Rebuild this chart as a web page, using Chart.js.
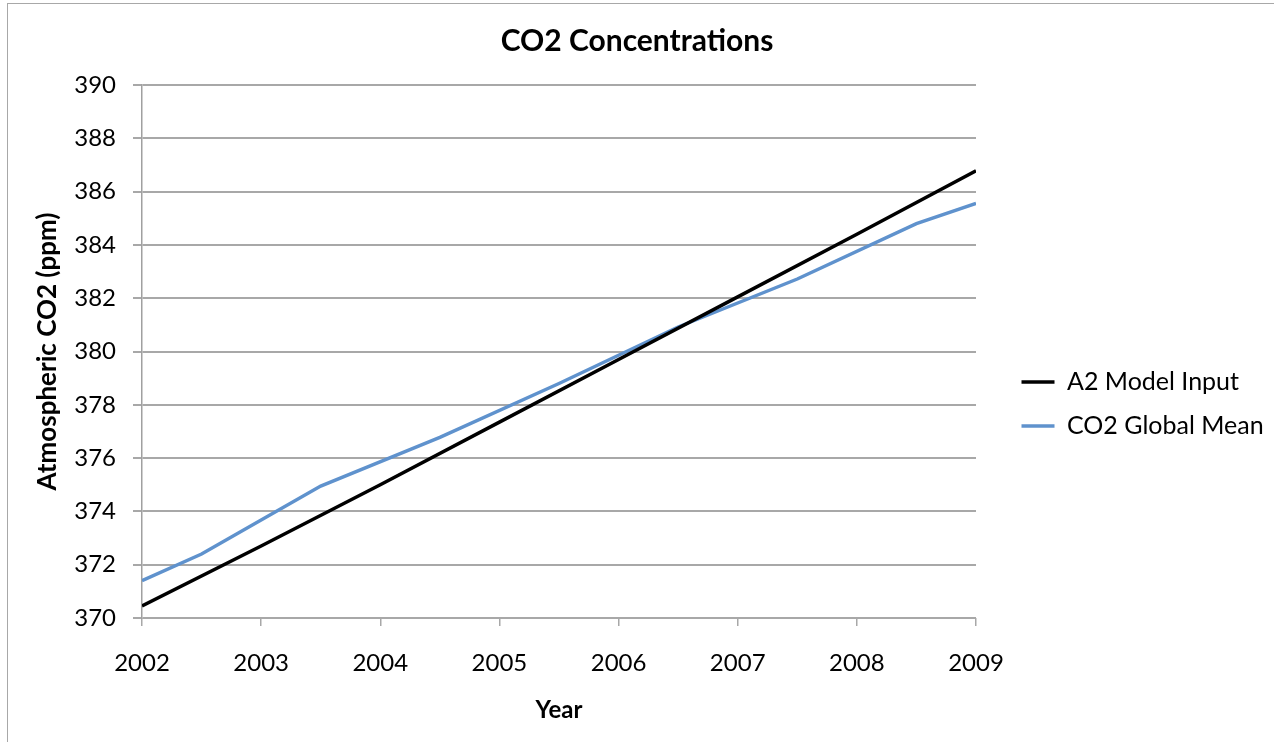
<!DOCTYPE html>
<html>
<head>
<meta charset="utf-8">
<script src="https://cdn.jsdelivr.net/npm/chart.js@4.4.1/dist/chart.umd.min.js"></script>
<style>
html,body{margin:0;padding:0;background:#fff;}
#wrap{position:relative;width:1274px;height:742px;overflow:hidden;background:#fff;}
#c{position:absolute;left:0;top:0;}
#frame{position:absolute;left:7px;top:3px;width:1400px;height:900px;border:1px solid #a8a8a8;box-sizing:border-box;pointer-events:none;}
</style>
</head>
<body>
<div id="wrap"><canvas id="c" width="1274" height="742"></canvas><div id="frame"></div></div>
<script>
// ---- data ----
const chartTitle = 'CO2 Concentrations';
const xAxisTitle = 'Year';
const yAxisTitle = 'Atmospheric CO2 (ppm)';
const seriesNames = ['A2 Model Input', 'CO2 Global Mean'];
const modelYears = [2002, 2003, 2004, 2005, 2006, 2007, 2008, 2009];
const modelValues = [370.45, 372.7, 375.0, 377.35, 379.7, 382.05, 384.4, 386.78];
const meanYears = [2002, 2002.5, 2003.5, 2004.5, 2005.5, 2006.5, 2007.5, 2008.5, 2009];
const meanValues = [371.4, 372.4, 374.95, 376.78, 378.8, 380.92, 382.72, 384.8, 385.56];
const xMin = 2002, xMax = 2009, xStep = 1;
const yMin = 370, yMax = 390, yStep = 2;

// ---- styles ----
const FONT = 'Lato';
const GRID = '#a8a8a8';

const toPoints = (xs, ys) => xs.map((x, i) => ({x: x, y: ys[i]}));

const legendPlace = {
  id: 'legendPlace',
  beforeLayout(chart) {
    const lg = chart.legend;
    if (lg && !lg.__patched) {
      const orig = lg.fit;
      lg.fit = function () { orig.call(this); this.width = 298; };
      lg.__patched = true;
    }
  },
  afterLayout(chart) {
    const lg = chart.legend;
    if (!lg) return;
    lg.left = 1002.5; lg.right = 1274;
    lg.top = 350.5; lg.bottom = 470;
  }
};

new Chart(document.getElementById('c'), {
  type: 'line',
  data: {
    datasets: [
      {
        label: seriesNames[0],
        data: toPoints(modelYears, modelValues),
        borderColor: '#000000',
        backgroundColor: '#000000',
        borderWidth: 3.5,
        pointRadius: 0,
        tension: 0,
        fill: false
      },
      {
        label: seriesNames[1],
        data: toPoints(meanYears, meanValues),
        borderColor: '#5f92cd',
        backgroundColor: '#5f92cd',
        borderWidth: 3.5,
        pointRadius: 0,
        tension: 0,
        fill: false
      }
    ]
  },
  options: {
    responsive: false,
    animation: false,
    devicePixelRatio: 1,
    layout: {padding: 0},
    plugins: {
      title: {
        display: true,
        text: chartTitle,
        color: '#000',
        font: {family: FONT, size: 30, weight: 'bold'},
        padding: {top: 23, bottom: 26}
      },
      legend: {
        display: true,
        position: 'right',
        align: 'start',
        labels: {
          usePointStyle: true,
          pointStyle: 'line',
          pointStyleWidth: 33,
          color: '#000',
          font: {family: FONT, size: 25},
          padding: 19
        }
      },
      tooltip: {enabled: false}
    },
    scales: {
      x: {
        type: 'linear',
        min: xMin, max: xMax,
        ticks: {
          stepSize: xStep,
          color: '#000',
          font: {family: FONT, size: 24},
          padding: 23,
          maxRotation: 0,
          autoSkip: false,
          callback: v => String(v)
        },
        grid: {drawOnChartArea: false, drawTicks: true, tickLength: 8, color: GRID, lineWidth: 1.5},
        border: {display: false},
        title: {
          display: true, text: xAxisTitle, color: '#000',
          font: {family: FONT, size: 24, weight: 'bold'},
          padding: {top: 0, bottom: 17.6}
        },
        afterFit: s => { s.height = 124; }
      },
      y: {
        min: yMin, max: yMax,
        ticks: {
          stepSize: yStep,
          color: '#000',
          font: {family: FONT, size: 24},
          padding: 17
        },
        grid: {color: GRID, lineWidth: 2, tickLength: 9, drawTicks: true},
        border: {display: true, color: '#a0a0a0', width: 1.5},
        title: {
          display: true, text: yAxisTitle, color: '#000',
          font: {family: FONT, size: 26, weight: 'bold'},
          padding: {top: 32, bottom: 0}
        },
        afterFit: s => { s.width = 142; }
      }
    }
  },
  plugins: [legendPlace]
});
</script>
</body>
</html>
